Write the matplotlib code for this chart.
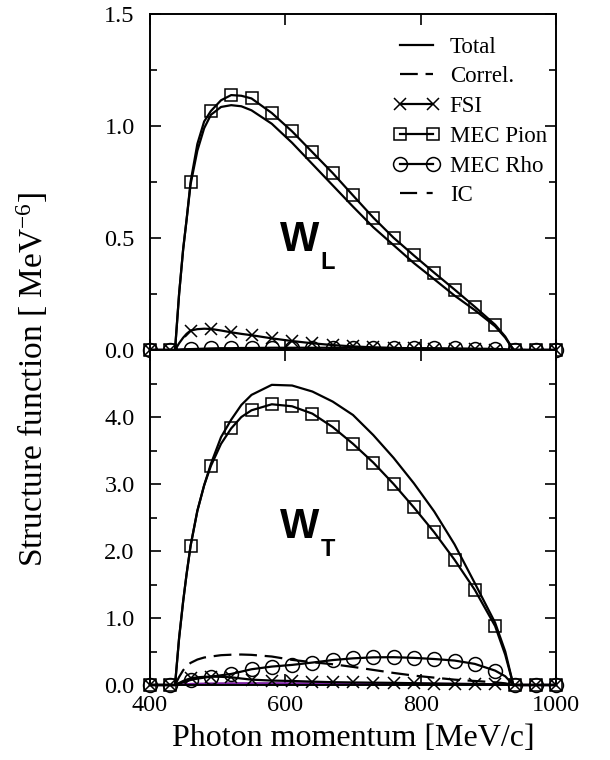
import matplotlib
matplotlib.use("Agg")
import matplotlib.pyplot as plt
from matplotlib.lines import Line2D
from matplotlib.ticker import MultipleLocator, FixedLocator

# ---------------- data ----------------
# photon momentum grid [MeV/c]
x = [400, 430, 437, 443, 449, 454, 460, 470, 480, 490, 505, 520, 535, 550, 580,
     610, 640, 670, 700, 730, 760, 790, 820, 850, 880, 910, 925, 937, 940, 970, 1000]
# x positions where symbols are drawn
x_marks = [400, 430, 460, 490, 520, 550, 580, 610, 640, 670, 700, 730, 760, 790,
           820, 850, 880, 910, 940, 970, 1000]

# W_L (upper panel)
wl_total = [0, 0, 0, 0.25, 0.45, 0.58, 0.74, 0.89, 0.99, 1.05, 1.085, 1.093, 1.088, 1.07, 1.01,
            0.925, 0.83, 0.735, 0.64, 0.548, 0.468, 0.388, 0.316, 0.243, 0.178, 0.106, 0.055, 0, 0, 0, 0]
wl_correl = [0, 0, 0, 0.001, 0.002, 0.002, 0.003, 0.003, 0.004, 0.004, 0.004, 0.004, 0.004, 0.004, 0.004,
             0.004, 0.003, 0.003, 0.003, 0.003, 0.002, 0.002, 0.002, 0.002, 0.001, 0.001, 0.001, 0, 0, 0, 0]
wl_fsi = [0, 0, 0, 0.03, 0.055, 0.072, 0.087, 0.093, 0.095, 0.094, 0.087, 0.079, 0.072, 0.066, 0.052,
          0.04, 0.03, 0.022, 0.016, 0.012, 0.009, 0.007, 0.005, 0.004, 0.003, 0.002, 0.001, 0, 0, 0, 0]
wl_pion = [0, 0, 0, 0.25, 0.45, 0.58, 0.751, 0.92, 1.02, 1.067, 1.115, 1.138, 1.135, 1.123, 1.058,
           0.976, 0.883, 0.79, 0.69, 0.591, 0.501, 0.422, 0.345, 0.270, 0.193, 0.113, 0.06, 0, 0, 0, 0]
wl_rho = [0, 0, 0, 0.001, 0.002, 0.003, 0.004, 0.005, 0.006, 0.007, 0.008, 0.008, 0.009, 0.009, 0.01,
          0.01, 0.01, 0.01, 0.01, 0.009, 0.009, 0.008, 0.008, 0.007, 0.006, 0.005, 0.003, 0, 0, 0, 0]
wl_ic = [0, 0, 0, 0.001, 0.001, 0.001, 0.002, 0.002, 0.002, 0.002, 0.002, 0.002, 0.002, 0.002, 0.002,
         0.002, 0.002, 0.002, 0.002, 0.002, 0.002, 0.002, 0.001, 0.001, 0.001, 0.001, 0.001, 0, 0, 0, 0]

# W_T (lower panel)
wt_total = [0, 0, 0, 0.7, 1.25, 1.65, 2.08, 2.6, 2.98, 3.3, 3.7, 3.96, 4.18, 4.33, 4.48,
            4.47, 4.38, 4.23, 4.03, 3.73, 3.39, 3.01, 2.59, 2.1, 1.52, 0.93, 0.5, 0, 0, 0, 0]
wt_correl = [0, 0, 0, 0.12, 0.22, 0.28, 0.33, 0.38, 0.41, 0.425, 0.445, 0.452, 0.455, 0.45, 0.425,
             0.375, 0.34, 0.31, 0.27, 0.225, 0.18, 0.14, 0.11, 0.08, 0.06, 0.04, 0.025, 0, 0, 0, 0]
wt_fsi = [0, 0, 0, 0.03, 0.06, 0.08, 0.1, 0.115, 0.122, 0.125, 0.122, 0.115, 0.097, 0.08, 0.066,
          0.06, 0.05, 0.042, 0.038, 0.035, 0.032, 0.027, 0.022, 0.018, 0.015, 0.01, 0.006, 0, 0, 0, 0]
wt_pion = [0, 0, 0, 0.7, 1.25, 1.65, 2.08, 2.6, 2.98, 3.27, 3.6, 3.83, 4.0, 4.1, 4.19,
           4.16, 4.05, 3.85, 3.6, 3.32, 3.0, 2.65, 2.28, 1.87, 1.42, 0.88, 0.45, 0, 0, 0, 0]
wt_rho = [0, 0, 0, 0.02, 0.04, 0.055, 0.075, 0.095, 0.11, 0.125, 0.145, 0.165, 0.2, 0.235, 0.275,
          0.3, 0.335, 0.372, 0.398, 0.413, 0.415, 0.405, 0.388, 0.365, 0.315, 0.215, 0.13, 0, 0, 0, 0]
wt_ic = [0, 0, 0, 0.005, 0.01, 0.012, 0.015, 0.018, 0.02, 0.022, 0.024, 0.025, 0.026, 0.026, 0.026,
         0.025, 0.025, 0.024, 0.023, 0.022, 0.021, 0.02, 0.018, 0.016, 0.014, 0.01, 0.006, 0, 0, 0, 0]

legend_labels = ["Total", "Correl.", "FSI", "MEC Pion", "MEC Rho", "IC"]
x_ticks = [400, 600, 800, 1000]

# ---------------- style ----------------
SERIF = ["Liberation Serif", "DejaVu Serif"]
SANS = ["Liberation Sans", "DejaVu Sans"]
plt.rcParams["font.family"] = SERIF
plt.rcParams["mathtext.fontset"] = "custom"
plt.rcParams["mathtext.rm"] = "Liberation Serif"
plt.rcParams["mathtext.it"] = "Liberation Serif:italic"

LW = 1.6
MS_SQ = 8.5
MS_CI = 10
MS_X = 9
MEW = 1.1
IC_COLOR = "#7b1fa2"
DASH_CORREL = (0, (8, 3.5))
DASH_IC = (0, (7.7, 4.3, 2.7, 4.3))
mark_idx = [x.index(v) for v in x_marks]

fig = plt.figure(figsize=(6.1, 7.6), dpi=100)
W, H = 610.0, 760.0
left, right = 150, 556
top, mid, bot = 14, 350, 685
ax1 = fig.add_axes([left / W, 1 - mid / H, (right - left) / W, (mid - top) / H])
ax2 = fig.add_axes([left / W, 1 - bot / H, (right - left) / W, (bot - mid) / H])


def draw(ax, tot, cor, fsi, pion, rho, ic):
    ax.plot(x, ic, color=IC_COLOR, lw=LW, zorder=2, clip_on=False)
    ax.plot(x, cor, color="black", lw=LW, ls=DASH_CORREL, zorder=3)
    ax.plot(x, tot, color="black", lw=LW, zorder=4, clip_on=False)
    ax.plot(x, pion, color="black", lw=LW, marker="s", ms=MS_SQ, mfc="none", mew=MEW,
            markevery=mark_idx, zorder=5, clip_on=False)
    ax.plot(x, rho, color="black", lw=LW, marker="o", ms=MS_CI, mfc="none", mew=MEW,
            markevery=mark_idx, zorder=5, clip_on=False)
    ax.plot(x, fsi, color="black", lw=LW, marker="x", ms=MS_X, mew=MEW,
            markevery=mark_idx, zorder=6, clip_on=False)
    ax.set_xlim(400, 1000)
    ax.xaxis.set_major_locator(FixedLocator(x_ticks))
    ax.tick_params(which="both", direction="in", top=True, right=True, width=1.2,
                   labelsize=17.5)
    ax.tick_params(which="major", length=8)
    ax.tick_params(which="minor", length=5)
    ax.tick_params(axis="y", pad=11)
    ax.tick_params(axis="x", pad=7)
    for s in ax.spines.values():
        s.set_linewidth(1.4)


draw(ax1, wl_total, wl_correl, wl_fsi, wl_pion, wl_rho, wl_ic)
draw(ax2, wt_total, wt_correl, wt_fsi, wt_pion, wt_rho, wt_ic)

ax1.set_ylim(0, 1.5)
ax1.yaxis.set_major_locator(FixedLocator([0.0, 0.5, 1.0, 1.5]))
ax1.yaxis.set_minor_locator(MultipleLocator(0.25))
ax1.set_yticklabels(["0.0", "0.5", "1.0", "1.5"])
ax1.tick_params(axis="x", labelbottom=False)

ax2.set_ylim(0, 5)
ax2.yaxis.set_major_locator(FixedLocator([0, 1, 2, 3, 4]))
ax2.yaxis.set_minor_locator(MultipleLocator(0.5))
ax2.set_yticklabels(["0.0", "1.0", "2.0", "3.0", "4.0"])
ax2.set_xticklabels([str(v) for v in x_ticks])
ax2.set_xlabel("Photon momentum [MeV/c]", fontsize=23, labelpad=6)

fig.text(32 / W, 0.5, r"Structure function [ MeV$^{-6}$]", rotation=90,
         ha="center", va="center", fontsize=24)

ax1.text(592, 0.44, "W", fontsize=30, fontweight="bold", family=SANS)
ax1.text(652, 0.44, "L", fontsize=17, fontweight="bold", family=SANS, va="top")
ax2.text(592, 2.2, "W", fontsize=30, fontweight="bold", family=SANS)
ax2.text(652, 2.2, "T", fontsize=17, fontweight="bold", family=SANS, va="top")

handles = [
    Line2D([], [], color="black", lw=LW),
    Line2D([], [], color="black", lw=LW, ls=DASH_CORREL),
    Line2D([], [], color="black", lw=LW, marker="x", ms=MS_X, mew=MEW),
    Line2D([], [], color="black", lw=LW, marker="s", ms=MS_SQ, mfc="none", mew=MEW),
    Line2D([], [], color="black", lw=LW, marker="o", ms=MS_CI, mfc="none", mew=MEW),
    Line2D([], [], color="black", lw=LW, ls=DASH_IC),
]
ax1.legend(handles, legend_labels, loc="upper left", bbox_to_anchor=(0.60, 0.933),
           frameon=False, numpoints=2, handlelength=2.0, handletextpad=0.45,
           labelspacing=0.38, borderpad=0, borderaxespad=0, fontsize=16.5)

fig.savefig("out.png", dpi=100)
